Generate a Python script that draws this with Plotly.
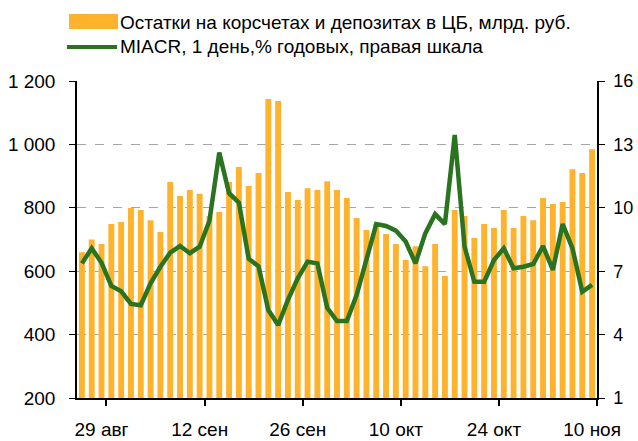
import plotly.graph_objects as go

# ---- data ----
bar_values = [660, 700, 686, 749, 755, 799, 793, 761, 724, 881,
              837, 856, 844, 774, 787, 881, 929, 869, 910, 1143,
              1137, 850, 825, 862, 856, 884, 856, 831, 768, 730,
              750, 717, 686, 635, 679, 616, 686, 585, 793, 774,
              705, 749, 736, 793, 736, 774, 761, 831, 812, 818,
              922, 910, 985]
miacr = [7.37, 8.08, 7.40, 6.30, 6.05, 5.45, 5.39, 6.43, 7.21, 7.88,
         8.19, 7.85, 8.16, 9.39, 12.61, 10.69, 10.24, 7.59, 7.23, 5.16,
         4.45, 5.64, 6.66, 7.45, 7.37, 5.27, 4.64, 4.64, 5.87, 7.53,
         9.23, 9.14, 8.92, 8.40, 7.37, 8.79, 9.70, 9.23, 13.45, 8.16,
         6.50, 6.50, 7.53, 8.08, 7.14, 7.21, 7.34, 8.19, 7.06, 9.23,
         8.08, 6.03, 6.35]
x_idx = list(range(len(bar_values)))
label_idx = [2, 12, 22, 32, 42, 52]
label_text = ["29 авг", "12 сен", "26 сен", "10 окт", "24 окт", "10 ноя"]
left_ticks = [200, 400, 600, 800, 1000, 1200]
left_text = ["200", "400", "600", "800", "1 000", "1 200"]
right_ticks = [1, 4, 7, 10, 13, 16]

name_bar = "Остатки на корсчетах и депозитах в ЦБ, млрд. руб."
name_line = "MIACR, 1 день,% годовых, правая шкала"

BAR_COLOR = "#FFB22B"
LINE_COLOR = "#2A7420"
FONT = "Liberation Sans, Arial, sans-serif"
FS = 19

fig = go.Figure()
fig.add_trace(go.Bar(x=x_idx, y=bar_values, name=name_bar,
                     marker=dict(color=BAR_COLOR, line=dict(width=0)),
                     width=0.6, yaxis="y"))
fig.add_trace(go.Scatter(x=x_idx, y=miacr, name=name_line, mode="lines",
                         line=dict(color=LINE_COLOR, width=4.5),
                         yaxis="y2"))

fig.update_layout(
    width=638, height=441,
    margin=dict(l=77, r=41, t=81, b=43),
    plot_bgcolor="white", paper_bgcolor="white",
    showlegend=False,
    font=dict(family=FONT, size=FS, color="black"),
    xaxis=dict(range=[-0.5, 52.5], tickmode="array", tickvals=label_idx,
               ticktext=label_text, ticks="outside", ticklen=0,
               showline=True, linecolor="black", linewidth=1.5,
               showgrid=False, zeroline=False, ticklabelstandoff=13,
               automargin=False,
               minor=dict(tickmode="array",
                          tickvals=[v + 0.5 for v in label_idx],
                          ticks="outside", ticklen=6, tickcolor="black",
                          tickwidth=1.5, showgrid=False)),
    yaxis=dict(range=[200, 1200], tickmode="array", tickvals=left_ticks,
               ticktext=left_text, ticks="outside", ticklen=6,
               tickcolor="black", showline=True, linecolor="black",
               linewidth=1.5, showgrid=True, gridcolor="#A6A6A6",
               griddash="dash", gridwidth=1, zeroline=False,
               ticklabelstandoff=10, automargin=False),
    yaxis2=dict(range=[1, 16], tickmode="array", tickvals=right_ticks,
                overlaying="y", side="right", ticks="outside", ticklen=6,
                tickcolor="black", showline=True, linecolor="black",
                linewidth=1.5, showgrid=False, zeroline=False,
                tickfont=dict(size=18),
                ticklabelstandoff=5, automargin=False),
    bargap=0.4,
)

# manual legend (paper coordinates relative to plot area)
W, H = 520.0, 317.0
def px(x):
    return (x - 77) / W
def py(y):
    return (398 - y) / H

fig.add_shape(type="rect", xref="paper", yref="paper",
              x0=px(69), x1=px(118), y0=py(29), y1=py(14),
              fillcolor=BAR_COLOR, line=dict(width=0))
fig.add_shape(type="line", xref="paper", yref="paper",
              x0=px(67), x1=px(117), y0=py(47), y1=py(47),
              line=dict(color=LINE_COLOR, width=4))
fig.add_annotation(xref="paper", yref="paper", x=px(118), y=py(22),
                   text=name_bar, showarrow=False, xanchor="left",
                   yanchor="middle", font=dict(size=FS))
fig.add_annotation(xref="paper", yref="paper", x=px(118), y=py(46),
                   text=name_line, showarrow=False, xanchor="left",
                   yanchor="middle", font=dict(size=FS))

fig.write_html("out.html",
               config={"displayModeBar": False},
               post_script="document.body.style.margin='0';"
                           "document.body.style.padding='0';"
                           "document.body.style.overflow='hidden';")
